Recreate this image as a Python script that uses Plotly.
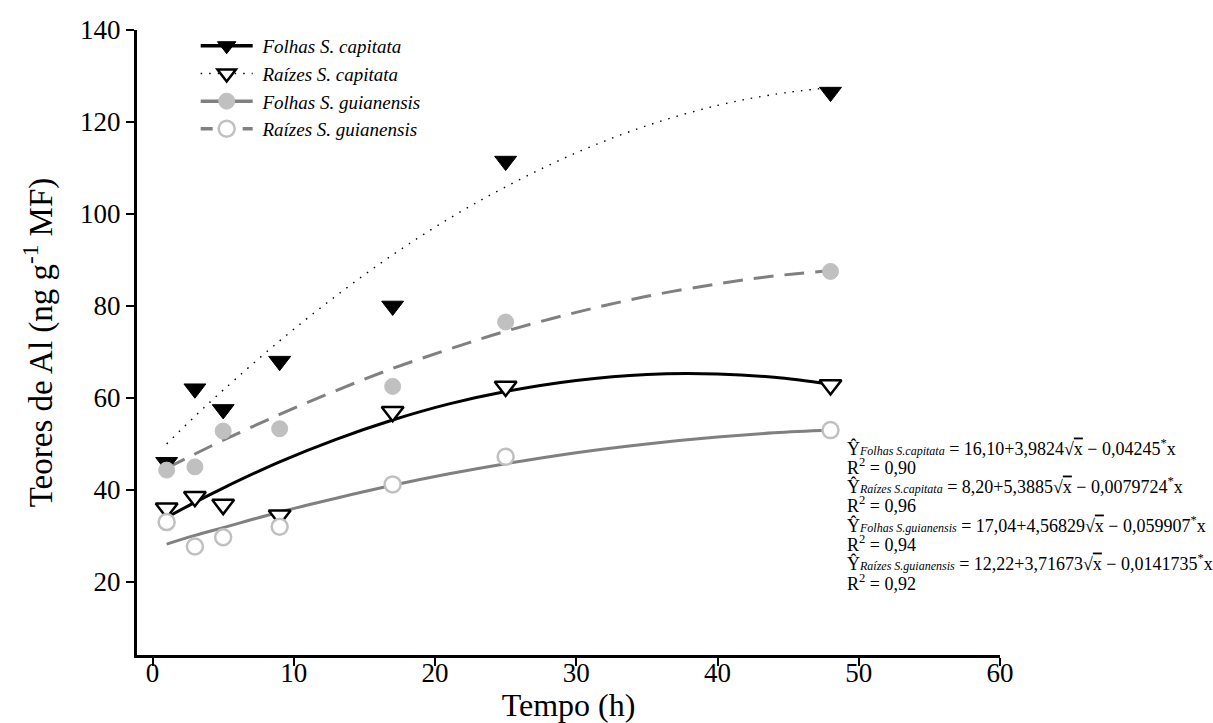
import plotly.graph_objects as go

# ---- data ----
tempo = [1, 3, 5, 9, 17, 25, 48]
folhas_capitata = [46, 62, 57.5, 68, 80, 111.5, 126.5]
raizes_capitata = [36, 38.5, 36.8, 34.5, 57, 62.5, 62.8]
folhas_guianensis = [44.3, 45, 52.8, 53.3, 62.5, 76.5, 87.5]
raizes_guianensis = [33, 27.7, 29.7, 32, 41.2, 47.2, 53]

# fitted curves
tempo_fit = [1, 3, 5, 9, 13, 17, 21, 25, 30, 35, 40, 44, 48]
fit_dotted = [50.0, 56.0, 61.7, 72.4, 82.2, 91.1, 99.0, 105.9, 113.3, 119.2, 123.6, 126.0, 127.5]
fit_black = [34.0, 37.3, 40.4, 46.1, 51.0, 55.2, 58.7, 61.4, 63.8, 65.1, 65.2, 64.5, 63.0]
fit_dashed = [44.7, 47.8, 50.8, 56.4, 61.6, 66.4, 70.6, 74.5, 78.6, 82.1, 84.8, 86.5, 87.7]
fit_grey = [28.2, 30.1, 31.8, 35.2, 38.2, 41.0, 43.5, 45.7, 48.1, 50.0, 51.5, 52.4, 53.0]

series_names = ["Folhas S. capitata", "Raízes S. capitata",
                "Folhas S. guianensis", "Raízes S. guianensis"]

equations = [
    ("Folhas S.capitata", "16,10+3,9824", "0,04245"),
    ("Raízes S.capitata", "8,20+5,3885", "0,0079724"),
    ("Folhas S.guianensis", "17,04+4,56829", "0,059907"),
    ("Raízes S.guianensis", "12,22+3,71673", "0,0141735"),
]
r2_values = ["0,90", "0,96", "0,94", "0,92"]

FONT = "Liberation Serif, Times New Roman, serif"
GREY_LINE = "#808080"
GREY_MARK = "#c0c0c0"
NB = "\u00a0"

fig = go.Figure()

# fitted curves
fig.add_trace(go.Scatter(x=tempo_fit, y=fit_dotted, mode="lines", line_shape="spline",
                         line=dict(color="black", width=1.4, dash="1.5px,7px"), showlegend=False))
fig.add_trace(go.Scatter(x=tempo_fit, y=fit_black, mode="lines", line_shape="spline",
                         line=dict(color="black", width=3), showlegend=False))
fig.add_trace(go.Scatter(x=tempo_fit, y=fit_dashed, mode="lines", line_shape="spline",
                         line=dict(color=GREY_LINE, width=3, dash="20px,11px"), showlegend=False))
fig.add_trace(go.Scatter(x=tempo_fit, y=fit_grey, mode="lines", line_shape="spline",
                         line=dict(color=GREY_LINE, width=3), showlegend=False))

# markers
mk = [
    dict(symbol="triangle-down", size=19, color="black", line=dict(color="black", width=1)),
    dict(symbol="triangle-down", size=19, color="white", line=dict(color="black", width=2.5)),
    dict(symbol="circle", size=16, color=GREY_MARK, line=dict(color=GREY_MARK, width=1)),
    dict(symbol="circle", size=16, color="white", line=dict(color=GREY_MARK, width=2.5)),
]
for ys, m in zip([folhas_capitata, raizes_capitata, folhas_guianensis, raizes_guianensis], mk):
    fig.add_trace(go.Scatter(x=tempo, y=ys, mode="markers", marker=m, showlegend=False))

# legend entries (styles as shown in the legend)
leg_lines = [
    dict(color="black", width=3.5),
    dict(color="black", width=1.4, dash="1.5px,7px"),
    dict(color=GREY_LINE, width=3.5),
    dict(color=GREY_LINE, width=3.5, dash="12px,9px"),
]
for name, ln, m in zip(series_names, leg_lines, mk):
    fig.add_trace(go.Scatter(x=[None], y=[None], mode="lines+markers", name=NB + name,
                             line=ln, marker=m))

# equation annotations
L, T, PW, PH = 137, 30, 863, 625
x0 = 845
y0 = 447
step = 19.3
def px(xp):
    return (xp - L) / PW
def py(yp):
    return (T + PH - yp) / PH

k = 0
for (sub, a_b, c), r2 in zip(equations, r2_values):
    txt = ("Ŷ<span style='font-size:12px'><i>" + sub + "</i></span>" + NB + "=" + NB + a_b +
           "√<span style='text-decoration:overline'>x</span>" + NB + "−" + NB + c +
           "<sup>*</sup>x")
    fig.add_annotation(x=px(x0), y=py(y0 + k * step), xref="paper", yref="paper",
                       text=txt, showarrow=False, xanchor="left", yanchor="middle",
                       font=dict(family=FONT, size=18, color="black"))
    k += 1
    fig.add_annotation(x=px(x0), y=py(y0 + k * step), xref="paper", yref="paper",
                       text="R<sup>2</sup>" + NB + "=" + NB + r2, showarrow=False, xanchor="left",
                       yanchor="middle", font=dict(family=FONT, size=18, color="black"))
    k += 1

fig.update_layout(
    width=1213, height=723,
    margin=dict(l=L, r=1213 - L - PW, t=T, b=723 - T - PH),
    paper_bgcolor="white", plot_bgcolor="white",
    font=dict(family=FONT, size=28, color="black"),
    legend=dict(x=0.068, y=1.005, xanchor="left", yanchor="top",
                font=dict(family=FONT, size=19, color="black", style="italic"),
                bgcolor="rgba(0,0,0,0)", itemwidth=52),
    xaxis=dict(range=[-1.1, 60], tickvals=[0, 10, 20, 30, 40, 50, 60],
               showline=True, linecolor="black", linewidth=3, ticks="outside",
               ticklen=8, tickwidth=1.5, tickcolor="black", showgrid=False,
               zeroline=False, automargin=False, ticklabelstandoff=-16,
               title=dict(text="Tempo (h)", standoff=14, font=dict(size=32)),
               tickfont=dict(size=27)),
    yaxis=dict(range=[4.1, 140], tickvals=[20, 40, 60, 80, 100, 120, 140],
               showline=True, linecolor="black", linewidth=3, ticks="outside",
               ticklen=8, tickwidth=1.5, tickcolor="black", showgrid=False,
               zeroline=False, automargin=False,
               title=dict(text="Teores de Al (ng g<sup>-1</sup> MF)", standoff=18, font=dict(size=33)),
               tickfont=dict(size=27)),
)

fig.write_html("out.html")
